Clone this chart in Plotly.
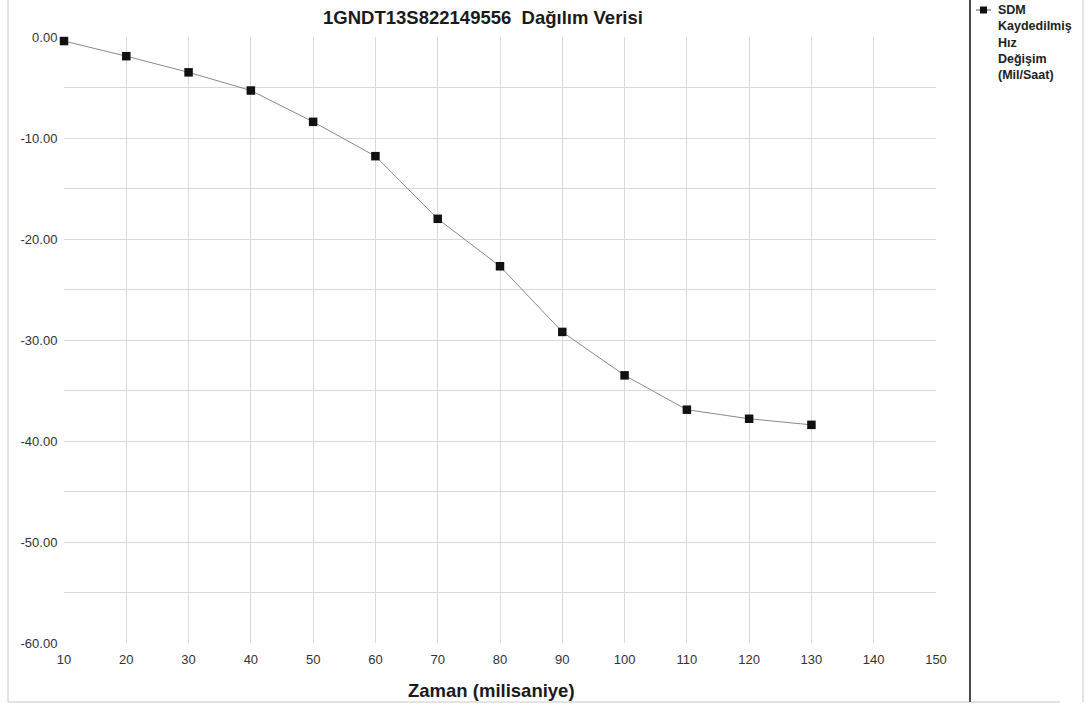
import plotly.graph_objects as go

# Recorded velocity change over time
time_ms = [10, 20, 30, 40, 50, 60, 70, 80, 90, 100, 110, 120, 130]
delta_v = [-0.4, -1.9, -3.5, -5.3, -8.4, -11.8, -18.0, -22.7, -29.2, -33.5, -36.9, -37.8, -38.4]

y_ticks = [0, -10, -20, -30, -40, -50, -60]
y_tick_labels = ["0.00", "-10.00", "-20.00", "-30.00", "-40.00", "-50.00", "-60.00"]
x_ticks = list(range(10, 151, 10))

title_text = "1GNDT13S822149556  Dağılım Verisi"
x_title = "Zaman (milisaniye)"
legend_lines = ["SDM", "Kaydedilmiş", "Hız", "Değişim", "(Mil/Saat)"]

W, H = 1086, 706
L, R, T, B = 64, 936, 37, 643
FONT = "Liberation Sans, Arial, sans-serif"
GRID = "#d9d9d9"


def px(x):
    return (x - L) / (R - L)


def py(y):
    return 1 - (y - T) / (B - T)


fig = go.Figure()
fig.add_trace(go.Scatter(
    x=time_ms, y=delta_v, mode="lines+markers",
    line=dict(color="#8a8a8a", width=1),
    marker=dict(symbol="square", size=8.5, color="#111111"),
    cliponaxis=False, showlegend=False,
))

shapes = [
    # outer frame
    dict(type="line", xref="paper", yref="paper", x0=px(8), x1=px(8), y0=py(0), y1=py(702),
         line=dict(color="#c8c8c8", width=1)),
    dict(type="line", xref="paper", yref="paper", x0=px(8), x1=px(1060), y0=py(702), y1=py(702),
         line=dict(color="#c8c8c8", width=1)),
    dict(type="line", xref="paper", yref="paper", x0=px(1083), x1=px(1083), y0=py(0), y1=py(702),
         line=dict(color="#c8c8c8", width=1)),
    # legend separator
    dict(type="line", xref="paper", yref="paper", x0=px(970), x1=px(970), y0=py(0), y1=py(702),
         line=dict(color="#4a4a4a", width=2)),
    # legend symbol
    dict(type="line", xref="paper", yref="paper", x0=px(976), x1=px(991), y0=py(10), y1=py(10),
         line=dict(color="#555555", width=1)),
    dict(type="rect", xref="paper", yref="paper", x0=px(980), x1=px(987), y0=py(6.5), y1=py(13.5),
         fillcolor="#111111", line=dict(width=0)),
]

annotations = [
    # legend text
    dict(text="<br>".join(f"<b>{s}</b>" for s in legend_lines),
         xref="paper", yref="paper", x=px(996), y=py(1),
         xanchor="left", yanchor="top", align="left", showarrow=False,
         font=dict(family=FONT, size=12.5, color="#222222")),
    # x axis title
    dict(text=f"<b>{x_title}</b>", xref="paper", yref="paper", x=px(491), y=py(690),
         xanchor="center", yanchor="middle", showarrow=False,
         font=dict(family=FONT, size=18.5, color="#1a1a1a")),
]

fig.update_layout(
    width=W, height=H,
    margin=dict(l=L, r=W - R, t=T, b=H - B),
    paper_bgcolor="white", plot_bgcolor="white",
    title=dict(text=f"<b>{title_text}</b>", x=px(483), xref="paper",
               xanchor="center", y=1 - 18 / H, yanchor="middle",
               font=dict(family=FONT, size=18.5, color="#1a1a1a")),
    xaxis=dict(range=[10, 150], tickvals=x_ticks, showgrid=True, gridcolor=GRID,
               zeroline=False, showline=False, ticks="outside", ticklen=4,
               tickcolor="rgba(0,0,0,0)",
               tickfont=dict(family=FONT, size=13, color="#333333")),
    yaxis=dict(range=[-60, 0], tickvals=y_ticks, ticktext=y_tick_labels,
               showgrid=True, gridcolor=GRID, zeroline=False, showline=False,
               ticks="outside", ticklen=3, tickcolor="rgba(0,0,0,0)",
               minor=dict(dtick=5, showgrid=True, gridcolor=GRID),
               tickfont=dict(family=FONT, size=13, color="#333333")),
    shapes=shapes,
    annotations=annotations,
)

fig.write_html("out.html")
